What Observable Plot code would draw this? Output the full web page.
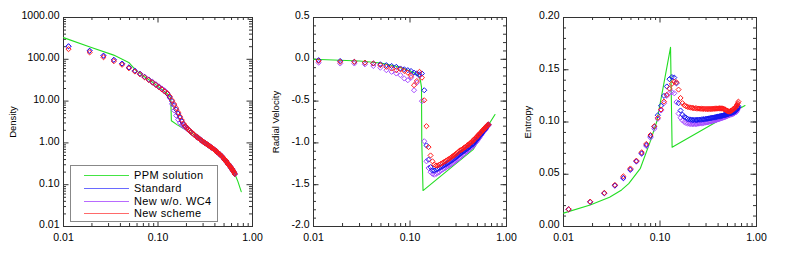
<!DOCTYPE html>
<html>
<head>
<meta charset="utf-8">
<script src="https://cdn.jsdelivr.net/npm/d3@7"></script>
<script src="https://cdn.jsdelivr.net/npm/@observablehq/plot@0.6"></script>
<style>
  html, body { margin: 0; padding: 0; background: #fff; }
  #wrap { position: relative; width: 789px; height: 262px; overflow: hidden; font-family: "Liberation Sans", Arial, sans-serif; }
  .panel { position: absolute; top: 0; }
  #legend { position: absolute; left: 70px; top: 165px; width: 148px; height: 57px; border: 1px solid #888; background: #fff; box-sizing: border-box; }
  .row { position: absolute; left: 0; height: 12px; font-size: 11px; line-height: 12px; color: #000; }
  .row .sw { position: absolute; left: 13px; top: 6px; width: 45px; height: 1px; }
  .row .lb { position: absolute; left: 63px; top: 0; white-space: nowrap; letter-spacing: 0.4px; }
</style>
</head>
<body>
<div id="wrap"></div>
<script>
// ---------------- data ----------------
const seriesNames = ["PPM solution", "Standard", "New w/o. WC4", "New scheme"];
const seriesColors = ["#22dd22", "#1515ee", "#a64dff", "#ff1a1a"];
const legendColors = ["#44e444", "#6a6aff", "#b86aff", "#ff6a6a"];

const radius = [0.0113,0.0189,0.0265,0.0341,0.0417,0.0493,0.0569,0.0645,0.0721,0.0797,
  0.0873,0.0949,0.1025,0.1101,0.1177,0.1253,0.1329,0.1405,0.1481,0.1557,
  0.1633,0.1709,0.1785,0.1861,0.1937,0.2013,0.2089,0.2165,0.2241,0.2317,
  0.2393,0.2469,0.2545,
  0.2621,0.2697,0.2773,0.2849,0.2925,0.3001,0.3077,0.3153,0.3229,0.3305,
  0.3381,0.3457,0.3533,0.3609,0.3685,0.3761,0.3837,0.3913,0.3989,0.4065,
  0.4141,0.4217,0.4293,0.4369,0.4445,0.4521,0.4597,0.4673,0.4749,0.4825,
  0.4901,0.4977,0.5053,0.5129,0.5205,0.5281,0.5357,0.5433,0.5509,0.5585,
  0.5661,0.5737,0.5813,0.5889,0.5965,0.6041,0.6117,0.6193,0.6269,0.6345,
  0.6421,0.6497];

const densStandard = [205,160,122,97,79,64,53,45,38,32.5,
  28,24.5,21.5,19,17,15,12.5,10,8,6.3,
  5,4,3.3,2.8,2.5,2.3,2.1,1.95,1.82,1.7,
  1.6,1.5,1.42,
  1.35,1.28,1.22,1.17,1.12,1.07,1.03,0.99,0.95,0.92,
  0.89,0.86,0.83,0.80,0.775,0.75,0.725,0.70,0.675,0.65,
  0.63,0.61,0.59,0.57,0.55,0.53,0.51,0.49,0.475,0.46,
  0.44,0.42,0.405,0.39,0.375,0.36,0.345,0.33,0.315,0.30,
  0.29,0.28,0.27,0.26,0.25,0.24,0.23,0.22,0.21,0.20,
  0.19,0.18];
const densNoWC4 = [205,160,122,97,79,64,53,45,38,33,
  29,25.5,22.5,20,18,15.5,12,8.5,6,4.5,
  3.6,3.0,2.7,2.5,2.35,2.2,2.05,1.92,1.8,1.69,
  1.6,1.5,1.42,
  1.35,1.28,1.22,1.17,1.12,1.07,1.03,0.99,0.95,0.92,
  0.89,0.86,0.83,0.80,0.775,0.75,0.725,0.70,0.675,0.65,
  0.63,0.61,0.59,0.57,0.55,0.53,0.51,0.49,0.475,0.46,
  0.44,0.42,0.405,0.39,0.375,0.36,0.345,0.33,0.315,0.30,
  0.29,0.28,0.27,0.26,0.25,0.24,0.23,0.22,0.21,0.20,
  0.19,0.18];
const densNew = [175,146,112,90,74,61,51,44,37,32,
  28,24.5,21.5,19,17,15.5,13,10.5,8.5,6.8,
  5.4,4.3,3.5,2.9,2.55,2.3,2.1,1.95,1.82,1.7,
  1.6,1.5,1.42,
  1.35,1.28,1.22,1.17,1.12,1.07,1.03,0.99,0.95,0.92,
  0.89,0.86,0.83,0.80,0.775,0.75,0.725,0.70,0.675,0.65,
  0.63,0.61,0.59,0.57,0.55,0.53,0.51,0.49,0.475,0.46,
  0.44,0.42,0.405,0.39,0.375,0.36,0.345,0.33,0.315,0.30,
  0.29,0.28,0.27,0.26,0.25,0.24,0.23,0.22,0.21,0.20,
  0.19,0.18];

const velStandard = [-0.01,-0.02,-0.03,-0.04,-0.05,-0.06,-0.07,-0.08,-0.09,-0.11,
  -0.12,-0.13,-0.14,-0.16,-0.17,-0.18,-0.17,-0.37,-1.03,-1.2,
  -1.29,-1.33,-1.33,-1.32,-1.31,-1.30,-1.29,-1.28,-1.27,-1.26,
  -1.25,-1.24,-1.23,
  -1.22,-1.21,-1.20,-1.19,-1.18,-1.17,-1.16,-1.15,-1.14,-1.13,
  -1.12,-1.11,-1.105,-1.10,-1.09,-1.08,-1.075,-1.07,-1.06,-1.05,
  -1.045,-1.04,-1.03,-1.02,-1.015,-1.01,-1.0,-0.99,-0.98,-0.97,
  -0.96,-0.95,-0.94,-0.93,-0.92,-0.91,-0.905,-0.90,-0.89,-0.88,
  -0.87,-0.86,-0.85,-0.84,-0.835,-0.83,-0.82,-0.81,-0.80,-0.79,
  -0.785,-0.78];
const velNoWC4 = [-0.04,-0.05,-0.05,-0.06,-0.08,-0.10,-0.13,-0.15,-0.17,-0.19,
  -0.23,-0.25,-0.22,-0.37,-0.28,-0.2,-0.5,-0.98,-1.22,-1.30,
  -1.35,-1.37,-1.38,-1.37,-1.36,-1.35,-1.33,-1.32,-1.31,-1.30,
  -1.29,-1.28,-1.27,
  -1.26,-1.25,-1.24,-1.23,-1.22,-1.21,-1.20,-1.19,-1.18,-1.17,
  -1.16,-1.15,-1.14,-1.13,-1.12,-1.11,-1.105,-1.10,-1.09,-1.08,
  -1.07,-1.06,-1.055,-1.05,-1.04,-1.03,-1.02,-1.01,-1.0,-0.99,
  -0.98,-0.97,-0.96,-0.95,-0.94,-0.93,-0.92,-0.91,-0.90,-0.89,
  -0.88,-0.87,-0.865,-0.86,-0.85,-0.84,-0.83,-0.82,-0.81,-0.80,
  -0.795,-0.79];
const velNew = [-0.02,-0.03,-0.03,-0.04,-0.05,-0.07,-0.09,-0.11,-0.13,-0.12,
  -0.14,-0.16,-0.2,-0.31,-0.26,-0.15,-0.22,-0.49,-0.8,-1.05,
  -1.15,-1.22,-1.26,-1.27,-1.27,-1.26,-1.25,-1.24,-1.23,-1.22,
  -1.21,-1.20,-1.19,
  -1.18,-1.17,-1.16,-1.15,-1.14,-1.13,-1.12,-1.11,-1.10,-1.09,
  -1.085,-1.08,-1.07,-1.06,-1.055,-1.05,-1.04,-1.03,-1.025,-1.02,
  -1.01,-1.0,-0.995,-0.99,-0.98,-0.97,-0.96,-0.95,-0.945,-0.94,
  -0.93,-0.92,-0.91,-0.905,-0.90,-0.89,-0.88,-0.875,-0.87,-0.86,
  -0.85,-0.845,-0.84,-0.83,-0.82,-0.815,-0.81,-0.80,-0.795,-0.79,
  -0.785,-0.78];

const entStandard = [0.0165,0.0235,0.0318,0.0392,0.0465,0.0545,0.0625,0.0700,0.0780,0.0865,
  0.0955,0.1065,0.1155,0.1250,0.1340,0.1410,0.1430,0.1425,0.1370,0.1180,
  0.1110,0.1070,0.1050,0.1040,0.1030,0.1025,0.1022,0.1020,0.1020,0.1020,
  0.1020,0.1021,0.1022,
  0.1023,0.1024,0.1025,0.1027,0.1028,0.1030,0.1031,0.1033,0.1035,0.1036,
  0.1038,0.1040,0.1041,0.1043,0.1045,0.1046,0.1048,0.1050,0.1051,0.1053,
  0.1055,0.1056,0.1058,0.1060,0.1061,0.1063,0.1065,0.1067,0.1068,0.1070,
  0.1072,0.1074,0.1076,0.1078,0.1080,0.1082,0.1084,0.1086,0.1088,0.1090,
  0.1092,0.1095,0.1097,0.1100,0.1103,0.1106,0.1110,0.1115,0.1122,0.1130,
  0.1140,0.1150];
const entNoWC4 = [0.0165,0.0235,0.0318,0.0390,0.0460,0.0540,0.0620,0.0695,0.0770,0.0850,
  0.0935,0.1030,0.1110,0.1180,0.1250,0.1280,0.1285,0.1275,0.1190,0.1080,
  0.1040,0.1015,0.1000,0.0990,0.0985,0.0982,0.0980,0.0980,0.0980,0.0981,
  0.0982,0.0983,0.0985,
  0.0986,0.0988,0.0989,0.0991,0.0993,0.0995,0.0997,0.0999,0.1001,0.1003,
  0.1005,0.1008,0.1010,0.1013,0.1015,0.1018,0.1020,0.1023,0.1025,0.1028,
  0.1030,0.1033,0.1035,0.1038,0.1040,0.1043,0.1045,0.1048,0.1050,0.1053,
  0.1055,0.1058,0.1060,0.1063,0.1065,0.1068,0.1070,0.1072,0.1074,0.1076,
  0.1078,0.1080,0.1082,0.1085,0.1088,0.1092,0.1096,0.1100,0.1107,0.1115,
  0.1125,0.1135];
const entNew = [0.0165,0.0238,0.0322,0.0398,0.0480,0.0555,0.0630,0.0710,0.0790,0.0875,
  0.0960,0.1040,0.1120,0.1195,0.1260,0.1320,0.1365,0.1385,0.1380,0.1310,
  0.1230,0.1180,0.1160,0.1150,0.1145,0.1140,0.1137,0.1135,0.1133,0.1131,
  0.1130,0.1129,0.1128,
  0.1127,0.1127,0.1126,0.1126,0.1125,0.1125,0.1125,0.1125,0.1125,0.1125,
  0.1125,0.1126,0.1126,0.1127,0.1127,0.1128,0.1128,0.1129,0.1129,0.1130,
  0.1130,0.1130,0.1130,0.1129,0.1128,0.1126,0.1124,0.1121,0.1118,0.1114,
  0.1110,0.1106,0.1103,0.1101,0.1100,0.1101,0.1103,0.1106,0.1110,0.1114,
  0.1118,0.1122,0.1126,0.1130,0.1135,0.1140,0.1146,0.1152,0.1160,0.1168,
  0.1180,0.1195];

const ppmDensR = [0.01,0.0194,0.034,0.049,0.058,0.07,0.09,0.11,0.125,0.1365,0.1385,0.16,0.19,0.22,0.26,0.3,0.35,0.4,0.45,0.5,0.55,0.6,0.65,0.7,0.76];
const ppmDens  = [330,195,126,84,55,40,27,19,15,12,3.4,2.7,2.15,1.8,1.4,1.1,0.86,0.67,0.52,0.41,0.31,0.24,0.18,0.12,0.068];
const ppmVelR = [0.01,0.03,0.05,0.07,0.09,0.11,0.122,0.128,0.1315,0.1325,0.1365,0.45,0.76];
const ppmVel  = [0,-0.02,-0.045,-0.08,-0.12,-0.16,-0.2,-0.25,-0.33,-1.0,-1.57,-1.08,-0.66];
const ppmEntR = [0.01,0.0189,0.03,0.04,0.0474,0.0626,0.0795,0.093,0.1286,0.1335,0.76];
const ppmEnt  = [0.0128,0.0205,0.028,0.035,0.041,0.0557,0.0817,0.101,0.1714,0.0758,0.1157];

const xTickValues = [0.01, 0.1, 1];
const xTickLabels = ["0.01", "0.10", "1.00"];
const densTickValues = [0.01, 0.1, 1, 10, 100, 1000];
const densTickLabels = ["0.01", "0.10", "1.00", "10.00", "100.00", "1000.00"];
const velTickValues = [0.5, 0, -0.5, -1, -1.5, -2];
const velTickLabels = ["0.5", "0.0", "-0.5", "-1.0", "-1.5", "-2.0"];
const entTickValues = [0.2, 0.15, 0.1, 0.05, 0];
const entTickLabels = ["0.20", "0.15", "0.10", "0.05", "0.00"];
const yTitles = ["Density", "Radial Velocity", "Entropy"];

// ---------------- helpers ----------------
function logMinors(lo, hi) {
  const out = [];
  for (let e = lo; e < hi; e++) for (let k = 2; k <= 9; k++) out.push(k * Math.pow(10, e));
  return out;
}
function linMinors(a, b, step) {
  const out = [];
  const n = Math.round((b - a) / step);
  for (let i = 0; i <= n; i++) out.push(+(a + i * step).toFixed(6));
  return out;
}

const W = 260, H = 262, MT = 17, MB = 36;
const innerH = H - MT - MB;
const frameColor = "#333";
const majorLen = 5.5, minorLen = 3;

function panel(cfg) {
  const innerW = W - cfg.ml - cfg.mr;
  const xMinor = logMinors(-2, 0);
  const lab = (vals, labels) => (d => labels[vals.indexOf(d)]);
  const marks = [
    Plot.frame({stroke: frameColor, strokeWidth: 1}),
    Plot.tickX(xTickValues, {x: d => d, insetTop: innerH - majorLen, stroke: frameColor}),
    Plot.tickX(xTickValues, {x: d => d, insetBottom: innerH - majorLen, stroke: frameColor}),
    Plot.tickX(xMinor, {x: d => d, insetTop: innerH - minorLen, stroke: frameColor}),
    Plot.tickX(xMinor, {x: d => d, insetBottom: innerH - minorLen, stroke: frameColor}),
    Plot.tickY(cfg.yTicks, {y: d => d, insetRight: innerW - majorLen, stroke: frameColor}),
    Plot.tickY(cfg.yTicks, {y: d => d, insetLeft: innerW - majorLen, stroke: frameColor}),
    Plot.tickY(cfg.yMinor, {y: d => d, insetRight: innerW - minorLen, stroke: frameColor}),
    Plot.tickY(cfg.yMinor, {y: d => d, insetLeft: innerW - minorLen, stroke: frameColor}),
    Plot.axisX({ticks: xTickValues, tickSize: 0, tickPadding: 7, tickFormat: lab(xTickValues, xTickLabels)}),
    Plot.axisY({ticks: cfg.yTicks, tickSize: 0, tickPadding: 4, dy: -1.5, tickFormat: lab(cfg.yTicks, cfg.yLabels)}),
    Plot.text([cfg.title], {text: d => d, frameAnchor: "left", dx: cfg.titleDx, rotate: -90, textAnchor: "middle", lineAnchor: "middle", fontSize: 9.5}),
    Plot.line(cfg.ppmR, {x: cfg.ppmR, y: cfg.ppm, stroke: seriesColors[0], strokeWidth: 1.1}),
    Plot.dot(radius, {x: radius, y: cfg.noWC4, symbol: "diamond2", r: 2.3, stroke: seriesColors[2], strokeWidth: 1}),
    Plot.dot(radius, {x: radius, y: cfg.standard, symbol: "diamond2", r: 2.3, stroke: seriesColors[1], strokeWidth: 1}),
    Plot.dot(radius, {x: radius, y: cfg.newer, symbol: "diamond2", r: 2.3, stroke: seriesColors[3], strokeWidth: 1})
  ];
  const svg = Plot.plot({
    width: W, height: H,
    marginLeft: cfg.ml, marginRight: cfg.mr, marginTop: MT, marginBottom: MB,
    x: {type: "log", domain: [0.01, 1]},
    y: cfg.yScale,
    style: {fontFamily: "'Liberation Sans', Arial, sans-serif", fontSize: "10.5px", color: "#000", background: "transparent", overflow: "visible"},
    marks
  });
  const div = document.createElement("div");
  div.className = "panel";
  div.style.left = cfg.left + "px";
  div.appendChild(svg);
  return div;
}

const wrap = document.getElementById("wrap");

wrap.appendChild(panel({
  left: 0, ml: 63, mr: 8,
  yScale: {type: "log", domain: [0.01, 1000]},
  yTicks: densTickValues, yLabels: densTickLabels, yMinor: logMinors(-2, 3),
  title: yTitles[0], titleDx: -51,
  ppmR: ppmDensR, ppm: ppmDens,
  standard: densStandard, noWC4: densNoWC4, newer: densNew
}));
wrap.appendChild(panel({
  left: 260, ml: 53, mr: 14,
  yScale: {type: "linear", domain: [-2, 0.5]},
  yTicks: velTickValues, yLabels: velTickLabels, yMinor: linMinors(-2, 0.5, 0.1),
  title: yTitles[1], titleDx: -38,
  ppmR: ppmVelR, ppm: ppmVel,
  standard: velStandard, noWC4: velNoWC4, newer: velNew
}));
wrap.appendChild(panel({
  left: 520, ml: 43, mr: 24,
  yScale: {type: "linear", domain: [0, 0.2]},
  yTicks: entTickValues, yLabels: entTickLabels, yMinor: linMinors(0, 0.2, 0.01),
  title: yTitles[2], titleDx: -36,
  ppmR: ppmEntR, ppm: ppmEnt,
  standard: entStandard, noWC4: entNoWC4, newer: entNew
}));

// legend
const legend = document.createElement("div");
legend.id = "legend";
seriesNames.forEach((name, i) => {
  const row = document.createElement("div");
  row.className = "row";
  row.style.top = (3 + i * 12.8) + "px";
  row.style.width = "100%";
  const sw = document.createElement("span");
  sw.className = "sw";
  sw.style.backgroundColor = legendColors[i];
  const lb = document.createElement("span");
  lb.className = "lb";
  lb.textContent = name;
  row.appendChild(sw);
  row.appendChild(lb);
  legend.appendChild(row);
});
wrap.appendChild(legend);
</script>
</body>
</html>
